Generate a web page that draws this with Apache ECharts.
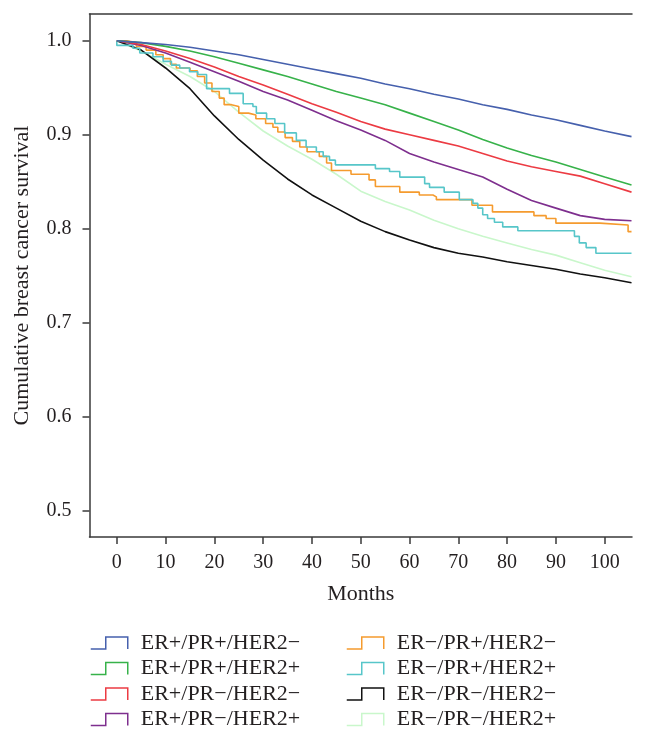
<!DOCTYPE html>
<html><head><meta charset="utf-8">
<script src="https://cdn.jsdelivr.net/npm/echarts@6/dist/echarts.min.js"></script>
<style>html,body{margin:0;padding:0;background:#fff}#c{width:646px;height:742px}</style>
</head><body><div id="c"></div>
<script>
// ---- Data ----
const seriesNames = ['ER+/PR+/HER2\u2212','ER+/PR+/HER2+','ER+/PR\u2212/HER2\u2212','ER+/PR\u2212/HER2+','ER\u2212/PR+/HER2\u2212','ER\u2212/PR+/HER2+','ER\u2212/PR\u2212/HER2\u2212','ER\u2212/PR\u2212/HER2+'];
const xTicks = [0,10,20,30,40,50,60,70,80,90,100];
const yTicks = [0.5,0.6,0.7,0.8,0.9,1.0];

// smooth-looking curves, sampled every 5 months
const months = [0,5,10,15,20,25,30,35,40,45,50,55,60,65,70,75,80,85,90,95,100,105.5];
const survErPPrPHer2N = [1.000,0.998,0.996,0.993,0.989,0.985,0.980,0.975,0.970,0.965,0.960,0.954,0.949,0.943,0.938,0.932,0.927,0.921,0.916,0.910,0.904,0.898];
const survErPPrPHer2P = [1.000,0.998,0.994,0.989,0.983,0.976,0.969,0.962,0.954,0.946,0.939,0.932,0.923,0.914,0.905,0.895,0.886,0.878,0.871,0.863,0.855,0.8465];
const survErPPrNHer2N = [1.000,0.996,0.989,0.981,0.972,0.962,0.953,0.943,0.933,0.924,0.914,0.906,0.900,0.894,0.888,0.880,0.872,0.866,0.861,0.856,0.848,0.839];
const survErPPrNHer2P = [1.000,0.995,0.987,0.977,0.967,0.957,0.946,0.937,0.926,0.915,0.905,0.894,0.880,0.871,0.863,0.855,0.842,0.830,0.822,0.814,0.810,0.8085];
const survErNPrNHer2N = [1.000,0.990,0.971,0.949,0.920,0.895,0.873,0.853,0.836,0.822,0.808,0.797,0.788,0.780,0.774,0.770,0.765,0.761,0.757,0.752,0.748,0.7426];
const survErNPrNHer2P = [1.000,0.989,0.975,0.962,0.946,0.924,0.904,0.888,0.874,0.858,0.840,0.829,0.820,0.809,0.800,0.792,0.785,0.778,0.772,0.764,0.756,0.749];

// step curves (time of each drop, survival after the drop)
const stepTimesErNPrPHer2N = [0,2,4,6,8,9.5,11,12.2,15,16.5,18,19.5,21,22,23.5,25,27,28.5,30.5,32,33,34.5,36,37.5,39,41.5,43,44,48,51.7,53,58,62,64.8,65.5,72.8,77,85.5,88,90,99,104.8,105.5];
const stepSurvErNPrPHer2N = [1.000,0.998,0.994,0.990,0.985,0.981,0.975,0.971,0.968,0.962,0.955,0.946,0.939,0.932,0.930,0.923,0.921,0.917,0.912,0.908,0.903,0.897,0.893,0.887,0.882,0.877,0.870,0.862,0.858,0.852,0.845,0.839,0.836,0.834,0.831,0.825,0.818,0.814,0.811,0.806,0.804,0.797,0.797];
const stepTimesErNPrPHer2P = [0,0,3.3,4.7,7.4,9.5,11.2,12.9,14.9,16.6,18.4,23.1,25.9,27.9,28.6,30.7,32.4,34.4,36.8,38.8,40.9,42.3,43.6,44.8,53,55.9,58,63.1,64.1,67.1,70.2,73,74,75,76,77.4,79.1,82.2,93.8,94.8,96.2,98.2,105.5];
const stepSurvErNPrPHer2P = [1.000,0.995,0.992,0.987,0.983,0.978,0.974,0.971,0.967,0.964,0.949,0.944,0.933,0.930,0.923,0.917,0.912,0.902,0.894,0.887,0.882,0.877,0.873,0.868,0.864,0.861,0.855,0.848,0.844,0.839,0.831,0.827,0.822,0.815,0.811,0.807,0.802,0.798,0.792,0.785,0.780,0.774,0.774];

const colors = ['#4660ad','#37b24a','#ec3b43','#7e2f8e','#f59b2e','#57c6c9','#111111','#c9f7cb'];

// ---- Build ----
const pair = (xs, ys) => xs.map((x, i) => [x, ys[i]]);
const curveData = [
  pair(months, survErPPrPHer2N),
  pair(months, survErPPrPHer2P),
  pair(months, survErPPrNHer2N),
  pair(months, survErPPrNHer2P),
  pair(stepTimesErNPrPHer2N, stepSurvErNPrPHer2N),
  pair(stepTimesErNPrPHer2P, stepSurvErNPrPHer2P),
  pair(months, survErNPrNHer2N),
  pair(months, survErNPrNHer2P)
];
const stepped = [false,false,false,false,true,true,false,false];
const drawOrder = [7,6,4,5,3,2,1,0];

const serif = 'Liberation Serif';
const axisColor = '#3a3a3a';
const legendIcon = 'path://M0,12L15,12L15,0L37,0L37,12';
const legendItems = idx => idx.map(i => ({
  name: seriesNames[i], icon: legendIcon,
  itemStyle: {color: 'rgba(255,255,255,0)', borderColor: colors[i], borderWidth: 1.5}
}));
const legendBase = {
  orient: 'vertical', top: 632, padding: 0, itemWidth: 37, itemHeight: 12, itemGap: 3.5,
  textStyle: {fontFamily: serif, fontSize: 22, color: '#231f20', lineHeight: 22, padding: [0,0,0,8]},
  selectedMode: false
};

const chart = echarts.init(document.getElementById('c'), null, {renderer: 'canvas'});
chart.setOption({
  animation: false,
  backgroundColor: '#fff',
  grid: {left: 89.5, right: 14, top: 14, bottom: 205, containLabel: false},
  xAxis: [{
    type: 'value', min: -5.6, max: 105.6,
    name: 'Months', nameLocation: 'middle', nameGap: 46,
    nameTextStyle: {fontFamily: serif, fontSize: 22, color: '#231f20'},
    axisLine: {show: true, onZero: false, lineStyle: {color: axisColor, width: 1.5}},
    axisTick: {show: true, length: 7, lineStyle: {color: axisColor, width: 1.5}, customValues: xTicks},
    axisLabel: {fontFamily: serif, fontSize: 20, color: '#231f20', margin: 16, customValues: xTicks},
    splitLine: {show: false}
  }, {
    type: 'value', position: 'top', min: -5.6, max: 105.6,
    axisLine: {show: true, onZero: false, lineStyle: {color: axisColor, width: 1.5}},
    axisTick: {show: false}, axisLabel: {show: false}, splitLine: {show: false}
  }],
  yAxis: {
    type: 'value', min: 0.4723, max: 1.0284,
    name: 'Cumulative breast cancer survival', nameLocation: 'middle', nameGap: 56,
    nameTextStyle: {fontFamily: serif, fontSize: 22, color: '#231f20'},
    axisLine: {show: true, onZero: false, lineStyle: {color: axisColor, width: 1.5}},
    axisTick: {show: true, length: 7, lineStyle: {color: axisColor, width: 1.5}, customValues: yTicks},
    axisLabel: {fontFamily: serif, fontSize: 20, color: '#231f20', margin: 18, customValues: yTicks,
      formatter: v => Number(v).toFixed(1)},
    splitLine: {show: false}
  },
  legend: [
    Object.assign({}, legendBase, {left: 90, data: legendItems([0,1,2,3])}),
    Object.assign({}, legendBase, {left: 346, data: legendItems([4,5,6,7])})
  ],
  series: drawOrder.map(i => ({
    name: seriesNames[i], type: 'line', data: curveData[i],
    step: stepped[i] ? 'end' : false,
    showSymbol: false, symbol: 'none', color: colors[i],
    lineStyle: {color: colors[i], width: 1.6},
    itemStyle: {color: colors[i]},
    emphasis: {disabled: true}, silent: true
  }))
});
</script></body></html>
